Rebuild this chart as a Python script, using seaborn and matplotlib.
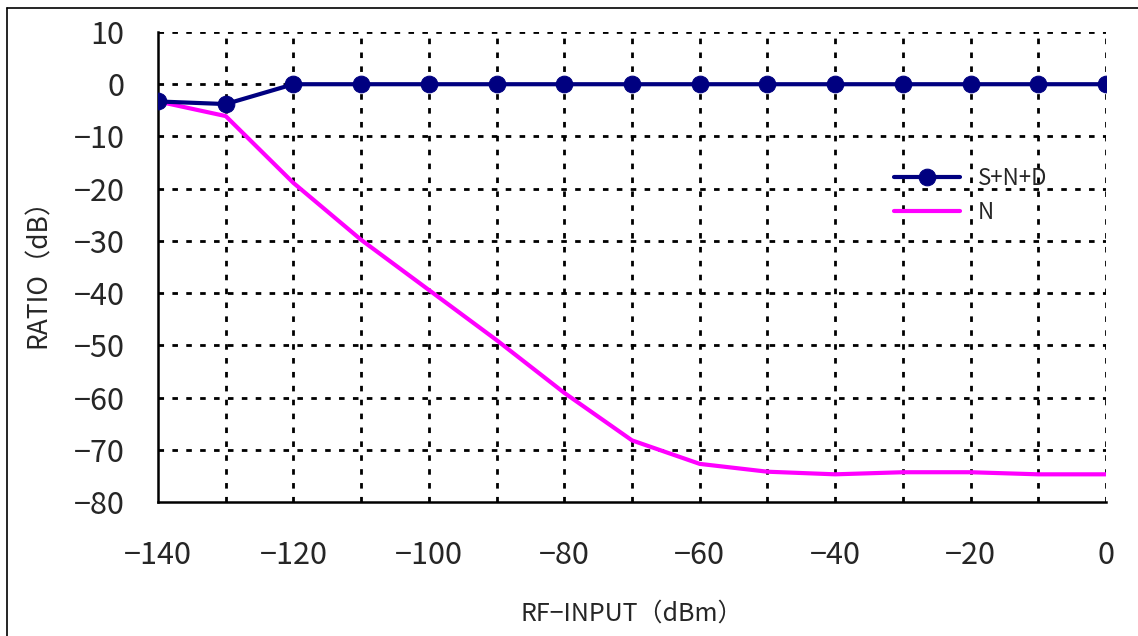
import matplotlib
matplotlib.use("Agg")
import matplotlib.pyplot as plt
import seaborn as sns
import pandas as pd
import numpy as np
from matplotlib.lines import Line2D

rf_input = [-140, -130, -120, -110, -100, -90, -80, -70, -60, -50, -40, -30, -20, -10, 0]
snd = [-3.3, -3.8, 0, 0, 0, 0, 0, 0, 0, 0, 0, 0, 0, 0, 0]
noise = [-3.3, -6.1, -18.9, -29.8, -39.4, -49.0, -59.1, -68.2, -72.7, -74.2, -74.7, -74.3, -74.3, -74.7, -74.7]

sns.set_theme(style="white")
plt.rcParams['font.family'] = ['Noto Sans CJK JP', 'DejaVu Sans']

fig = plt.figure(figsize=(11.38, 6.36), dpi=100)
ax = fig.add_axes([158/1138, 134/636, (1106-158)/1138, (502-32)/636])

df1 = pd.DataFrame({"x": rf_input, "y": snd})
df2 = pd.DataFrame({"x": rf_input, "y": noise})

sns.lineplot(data=df1, x="x", y="y", ax=ax, color="#000080", linewidth=3,
             marker="o", markersize=12, markeredgecolor="#000080", label="S+N+D", zorder=5)
sns.lineplot(data=df2, x="x", y="y", ax=ax, color="#FF00FF", linewidth=3,
             label="N", zorder=4)

ax.set_xlim(-140, 0)
ax.set_ylim(-80, 10)
ax.set_xticks(np.arange(-140, 1, 20))
ax.set_xticks(np.arange(-130, 0, 20), minor=True)
ax.set_yticks(np.arange(-80, 11, 10))

grid_kw = dict(color="black", linewidth=2, linestyle=(0, (2, 3)))
for xv in np.arange(-130, 0, 10):
    ax.axvline(xv, zorder=1, **grid_kw)
for yv in np.arange(-70, 10, 10):
    ax.axhline(yv, zorder=1, **grid_kw)
ax.axhline(10, zorder=1, **grid_kw)
ax.axvline(0, zorder=1, **grid_kw)

for s in ["top", "right"]:
    ax.spines[s].set_visible(False)
for s in ["left", "bottom"]:
    ax.spines[s].set_color("black")
    ax.spines[s].set_linewidth(1.8)

ax.tick_params(axis="both", which="major", labelsize=22, direction="in", length=5,
               width=1, color="black")
ax.tick_params(axis="y", pad=24)
ax.tick_params(axis="x", pad=27)
ax.tick_params(axis="x", which="minor", direction="in", length=5, width=1)

ax.set_xlabel("RF−INPUT（dBm）", fontsize=18, labelpad=22)
ax.set_ylabel("RATIO（dB）", fontsize=19, labelpad=16)

leg = ax.legend(loc="upper left", bbox_to_anchor=(0.755, 0.755), frameon=False,
                fontsize=16, handlelength=3.0, handletextpad=0.8, labelspacing=0.5)

# figure border (top and left visible)
fig.add_artist(Line2D([7/1138, 7/1138], [0, 1 - 8/636], transform=fig.transFigure,
                      color="black", linewidth=1.2))
fig.add_artist(Line2D([7/1138, 1], [1 - 8/636, 1 - 8/636], transform=fig.transFigure,
                      color="black", linewidth=1.2))

fig.savefig("out.png", dpi=100)
